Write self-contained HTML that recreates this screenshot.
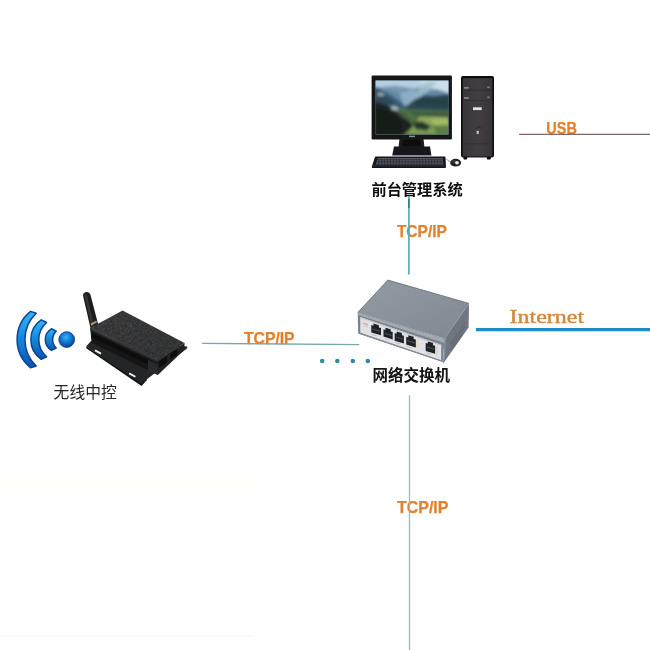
<!DOCTYPE html>
<html lang="zh">
<head>
<meta charset="utf-8">
<title>网络拓扑图</title>
<style>
html,body{margin:0;padding:0;background:#fff;}
body{width:650px;height:650px;overflow:hidden;position:relative;font-family:"Liberation Sans",sans-serif;}
svg{position:absolute;left:0;top:0;display:block;}
.lbl{font-family:"Liberation Sans",sans-serif;font-weight:bold;fill:#e2812c;stroke:#e2812c;stroke-width:0.25px;}
.net{font-family:"Liberation Serif",serif;fill:#d2873c;stroke:#d2873c;stroke-width:0.4px;}
.hid{position:absolute;color:transparent;font-size:15px;line-height:15px;white-space:nowrap;overflow:hidden;font-family:"Liberation Sans",sans-serif;}
</style>
</head>
<body>
<svg width="650" height="650" viewBox="0 0 650 650">
<defs>
  <filter id="b03" x="-5%" y="-5%" width="110%" height="110%"><feGaussianBlur stdDeviation="0.35"/></filter>
  <filter id="bz" x="-5%" y="-5%" width="110%" height="110%"><feGaussianBlur stdDeviation="11"/></filter>
  <filter id="grain" x="0" y="0" width="100%" height="100%"><feTurbulence type="fractalNoise" baseFrequency="0.4" numOctaves="2" seed="7" result="n"/><feColorMatrix in="n" type="matrix" values="0 0 0 0 0.5  0 0 0 0 0.5  0 0 0 0 0.5  0.9 0.9 0.9 0 -0.95" result="m"/><feComposite in="m" in2="SourceGraphic" operator="in"/></filter>
  <clipPath id="scr"><rect x="375.5" y="80.5" width="73" height="54.1"/></clipPath>
  <linearGradient id="wifi" x1="0" y1="0" x2="0" y2="1">
    <stop offset="0" stop-color="#33b8f2"/><stop offset="0.45" stop-color="#178ae0"/><stop offset="1" stop-color="#0c55ae"/>
  </linearGradient>
  <radialGradient id="dot" cx="0.45" cy="0.35" r="0.65">
    <stop offset="0" stop-color="#37b4f4"/><stop offset="0.55" stop-color="#1273d0"/><stop offset="1" stop-color="#0a3f8e"/>
  </radialGradient>
  <linearGradient id="swtop" x1="0" y1="0" x2="1" y2="1">
    <stop offset="0" stop-color="#929aa3"/><stop offset="1" stop-color="#808892"/>
  </linearGradient>
  <linearGradient id="tower" x1="0" y1="0" x2="1" y2="0">
    <stop offset="0" stop-color="#39363a"/><stop offset="0.5" stop-color="#413d41"/><stop offset="1" stop-color="#38353a"/>
  </linearGradient>
  <linearGradient id="boxtop" x1="0" y1="0" x2="1" y2="1">
    <stop offset="0" stop-color="#303132"/><stop offset="1" stop-color="#28292a"/>
  </linearGradient>
</defs>
<rect width="650" height="650" fill="#ffffff"/>
<rect x="0" y="477.5" width="254.7" height="12.8" fill="#fffef8"/>
<rect x="0" y="635.3" width="254.4" height="1.6" fill="#f8f8f8"/>

<!-- orange labels -->
<g filter="url(#b03)">
  <text class="lbl" x="546.3" y="134" font-size="17.4" textLength="30.6" lengthAdjust="spacingAndGlyphs">USB</text>
  <text class="lbl" x="396.9" y="236.8" font-size="16.5" textLength="50" lengthAdjust="spacingAndGlyphs">TCP/IP</text>
  <text class="lbl" x="244" y="344.4" font-size="16.5" textLength="50.6" lengthAdjust="spacingAndGlyphs">TCP/IP</text>
  <text class="lbl" x="396.9" y="512.5" font-size="16.5" textLength="51.6" lengthAdjust="spacingAndGlyphs">TCP/IP</text>
  <text class="net" x="509.6" y="322.6" font-size="19.2" textLength="74.5" lengthAdjust="spacingAndGlyphs">Internet</text>
</g>
<!-- connection lines -->
<g fill="none">
  <line x1="519.2" y1="134.3" x2="650" y2="134.3" stroke="#7d6a68" stroke-width="1.3"/>
  <line x1="408.9" y1="196.5" x2="408.9" y2="274.5" stroke="#4fb0c0" stroke-width="1.7"/>
  <line x1="408.9" y1="199" x2="408.9" y2="208" stroke="#2a7888" stroke-width="1.4"/>
  <line x1="409.5" y1="395.3" x2="409.5" y2="650" stroke="#8cbccb" stroke-width="1.3"/>
  <line x1="202.2" y1="343.4" x2="359.2" y2="344.6" stroke="#7aa6ad" stroke-width="1.4"/>
  <line x1="476" y1="329.7" x2="650" y2="329.7" stroke="#1b8bc9" stroke-width="3.2"/>
</g>
<g fill="#2f8da0" filter="url(#b03)">
  <circle cx="322.2" cy="361.1" r="2.25"/><circle cx="337.3" cy="361.1" r="2.25"/><circle cx="352.8" cy="361.1" r="2.25"/><circle cx="367.8" cy="361.1" r="2.25"/>
</g>

<!-- desktop computer -->
<g filter="url(#b03)">
  <!-- monitor -->
  <rect x="371.6" y="75.5" width="80.3" height="63.9" rx="1.2" fill="#121215"/>
  <rect x="375.5" y="80.5" width="73" height="54.1" fill="#7798b2"/>
  <g clip-path="url(#scr)">
    <g transform="translate(370 74) scale(0.12923)" filter="url(#bz)">
      <rect x="30" y="40" width="590" height="440" fill="#7798b2"/>
      <!-- bright sky strip -->
      <polygon points="30,40 620,40 620,120 480,95 330,110 200,90 30,105" fill="#b6d0e2"/>
      <polygon points="380,40 620,40 620,150 520,120 420,100" fill="#cadeea"/>
      <!-- light rays -->
      <polygon points="430,60 520,60 330,260 270,250" fill="#a3bfce" opacity="0.8"/>
      <!-- hazy distant ridge -->
      <polygon points="120,110 240,150 330,230 420,150 520,120 620,150 620,260 120,260" fill="#6488a4"/>
      <polygon points="230,150 330,120 400,160 330,250 260,240" fill="#8fb0c6" opacity="0.9"/>
      <!-- left mid mountain -->
      <polygon points="30,95 90,120 170,170 240,220 300,270 30,280" fill="#3b5c72"/>
      <polygon points="30,120 110,160 200,230 30,250" fill="#2e4a5a"/>
      <!-- right mountain -->
      <polygon points="280,250 340,200 420,165 500,170 560,160 620,158 620,300 280,290" fill="#2c4a54"/>
      <polygon points="330,225 420,180 520,185 620,180 620,250 360,250" fill="#25404a"/>
      <!-- valley greens -->
      <polygon points="200,270 620,285 620,480 30,480 30,300" fill="#4f6f43"/>
      <polygon points="300,290 620,300 620,330 340,320" fill="#3c5a40"/>
      <polygon points="380,330 600,335 620,400 470,405 360,380" fill="#8da85a"/>
      <polygon points="250,400 350,385 500,420 520,465 260,465" fill="#7f9d55"/>
      <polygon points="470,350 600,345 615,385 500,390" fill="#a4bc68"/>
      <polygon points="330,375 400,365 470,400 440,440 350,425" fill="#27392a"/>
      <polygon points="520,410 620,400 620,480 500,480" fill="#5c7d47"/>
      <!-- dark foreground slope -->
      <polygon points="30,210 110,235 200,272 270,330 335,400 300,440 250,480 30,480" fill="#1a2120"/>
      <polygon points="30,260 160,300 250,380 230,480 30,480" fill="#141a19"/>
      <polygon points="190,275 260,300 330,370 290,360 230,320" fill="#44603f"/>
      <!-- snow patches -->
      <polygon points="58,146 104,148 108,170 60,168" fill="#cfdde4" opacity="0.7"/>
      <polygon points="158,250 209,253 220,282 170,277" fill="#dde8e6" opacity="0.75"/>
    </g>
  </g>
  <rect x="409" y="135.6" width="6" height="1.6" fill="#8a8c90"/>
  <!-- stand -->
  <polygon points="399.5,139 423.5,139 424.5,147.5 398.5,147.5" fill="#1b1b1e"/>
  <polygon points="394,146.5 430,146.5 431.4,155.4 392.2,155.4" fill="#19191c"/>
  <polygon points="403,139.5 420,139.5 421,146 402,146" fill="#0c0c0e"/>
  <!-- keyboard -->
  <path d="M376,156.6 L444.6,156.6 Q445.4,156.6 445.5,157.4 L446,166.8 Q446,168 444.8,168 L372.8,168 Q371.5,168 371.8,166.8 L374.8,157.4 Q375,156.6 376,156.6 Z" fill="#17181a"/>
  <polygon points="377.6,158 442.6,158 443.4,164.6 375.6,164.6" fill="#56616d"/>
  <g stroke="#17181a" stroke-width="0.55">
    <line x1="376.8" y1="159.7" x2="443" y2="159.7"/><line x1="376.4" y1="161.3" x2="443.2" y2="161.3"/><line x1="376" y1="162.9" x2="443.3" y2="162.9"/>
  </g>
  <g stroke="#17181a" stroke-width="0.5" opacity="0.8">
    <line x1="379.0" y1="158" x2="378.6" y2="164.6"/>
    <line x1="381.9" y1="158" x2="381.6" y2="164.6"/>
    <line x1="384.8" y1="158" x2="384.5" y2="164.6"/>
    <line x1="387.7" y1="158" x2="387.5" y2="164.6"/>
    <line x1="390.6" y1="158" x2="390.4" y2="164.6"/>
    <line x1="393.5" y1="158" x2="393.4" y2="164.6"/>
    <line x1="396.4" y1="158" x2="396.3" y2="164.6"/>
    <line x1="399.3" y1="158" x2="399.2" y2="164.6"/>
    <line x1="402.2" y1="158" x2="402.2" y2="164.6"/>
    <line x1="405.1" y1="158" x2="405.2" y2="164.6"/>
    <line x1="408.0" y1="158" x2="408.1" y2="164.6"/>
    <line x1="410.9" y1="158" x2="411.1" y2="164.6"/>
    <line x1="413.8" y1="158" x2="414.0" y2="164.6"/>
    <line x1="416.7" y1="158" x2="417.0" y2="164.6"/>
    <line x1="419.6" y1="158" x2="419.9" y2="164.6"/>
    <line x1="422.5" y1="158" x2="422.9" y2="164.6"/>
    <line x1="425.4" y1="158" x2="425.8" y2="164.6"/>
    <line x1="428.3" y1="158" x2="428.8" y2="164.6"/>
    <line x1="431.2" y1="158" x2="431.7" y2="164.6"/>
    <line x1="434.1" y1="158" x2="434.7" y2="164.6"/>
    <line x1="437.0" y1="158" x2="437.6" y2="164.6"/>
    <line x1="439.9" y1="158" x2="440.6" y2="164.6"/>
  </g>
  <rect x="372.6" y="165.2" width="72.8" height="1.2" fill="#2b2d30"/>
  <!-- mouse -->
  <path d="M450.2,161.6 q-2.6,-0.6 -4,-3" stroke="#5b5e63" stroke-width="0.6" fill="none"/>
  <ellipse cx="455.6" cy="162.7" rx="5.5" ry="3.9" fill="#1f2023"/>
  <ellipse cx="454" cy="161.8" rx="2.6" ry="1.8" fill="#35373b"/>
  <ellipse cx="457" cy="162.8" rx="1.9" ry="1.7" fill="#ececee"/>
  <!-- tower -->
  <rect x="463.4" y="156.6" width="3.8" height="2.8" rx="0.8" fill="#0c0c0d"/>
  <rect x="486.8" y="156.6" width="4" height="2.8" rx="0.8" fill="#0c0c0d"/>
  <rect x="461" y="76.1" width="33" height="81.3" rx="1.8" fill="#0e0e10"/>
  <rect x="462.7" y="78.2" width="29.6" height="78.2" rx="0.6" fill="url(#tower)"/>
  <rect x="463" y="89.9" width="29" height="0.6" fill="#2a282b"/>
  <rect x="463" y="100" width="29" height="0.6" fill="#2a282b"/>
  <rect x="463" y="143.6" width="29" height="0.6" fill="#2e2c2f"/>
  <rect x="464" y="87" width="4.8" height="1.7" fill="#8a888c"/>
  <rect x="487.2" y="86.5" width="2.6" height="1.6" fill="#7f7d81"/>
  <rect x="464" y="97.1" width="4.8" height="1.7" fill="#8a888c"/>
  <rect x="487.2" y="96.5" width="2.6" height="1.6" fill="#7f7d81"/>
  <rect x="473" y="107.3" width="8.7" height="2.8" fill="#e2e2e4"/>
  <rect x="476.7" y="130.7" width="2" height="3.2" rx="0.5" fill="#c9c9cc"/>
  <path d="M476.2,128.6 q2.6,-3 5.2,-0.4" stroke="#242326" stroke-width="0.8" fill="none"/>
</g>

<!-- network switch -->
<g filter="url(#b03)">
  <polygon points="444.6,338.5 469,303.4 468.6,327.6 443.2,363.4" fill="#6f7680"/>
  <g stroke="#565d66" stroke-width="0.7"><line x1="451" y1="343.5" x2="465" y2="322.5"/><line x1="451" y1="347" x2="465" y2="326"/><line x1="451" y1="350.5" x2="463" y2="332.5"/></g>
  <polygon points="444.6,338.5 446.2,336.2 445,361 443.2,363.4" fill="#858c95"/>
  <polygon points="387.9,280.1 469,303.4 444.6,338.5 357.7,312.6" fill="url(#swtop)"/>
  <polyline points="357.7,312.6 387.9,280.1 469,303.4" fill="none" stroke="#626871" stroke-width="0.8"/>
  <polygon points="357.7,312.6 444.6,338.5 442.8,361.9 358.2,333.5" fill="#7b828b" />
  <polygon points="358.0,313.0 444.3,338.7 443.9,342.7 358.2,315.1" fill="#a3aab2" />
  <polygon points="360.2,316.9 441.3,344.7 441.1,360.4 360.3,332.7" fill="#dfe1e4" />
  <polygon points="360.2,316.9 441.3,344.7 441.3,345.9 360.2,317.9" fill="#c3c7cc" />
  <polygon points="363.2,322.4 367.8,324.0 367.8,325.4 363.2,323.8" fill="#e39a90" />
  <polygon points="363.2,325.2 367.8,326.8 367.8,327.5 363.2,325.9" fill="#c4c8cd" />
  <polygon points="371.3,325.1 373.4,325.8 373.4,323.6 378.9,325.2 378.9,327.4 381.0,328.0 381.0,335.3 371.3,332.4" fill="#1e2126" />
  <polygon points="372.5,328.5 379.8,330.6 379.8,331.8 372.5,329.7" fill="#4a5058" />
  <polygon points="372.3,334.1 376.6,335.4 376.6,336.2 372.3,334.9" fill="#b4b9bf" />
  <polygon points="383.5,329.3 385.5,329.9 385.5,327.7 390.7,329.3 390.7,331.5 392.7,332.1 392.7,339.4 383.5,336.6" fill="#1e2126" />
  <polygon points="384.7,332.7 391.5,334.7 391.5,335.9 384.7,333.9" fill="#4a5058" />
  <polygon points="384.5,338.3 388.6,339.5 388.6,340.3 384.5,339.1" fill="#b4b9bf" />
  <polygon points="394.7,333.1 396.7,333.7 396.7,331.5 401.9,333.0 401.9,335.2 403.9,335.8 403.9,343.4 394.7,340.7" fill="#1e2126" />
  <polygon points="395.9,336.4 402.7,338.4 402.7,339.6 395.9,337.6" fill="#4a5058" />
  <polygon points="395.7,342.3 399.8,343.5 399.8,344.3 395.7,343.1" fill="#b4b9bf" />
  <polygon points="406.2,336.8 408.3,337.4 408.3,335.2 413.7,336.8 413.7,339.0 415.8,339.6 415.8,347.4 406.2,344.6" fill="#1e2126" />
  <polygon points="407.4,340.1 414.6,342.2 414.6,343.4 407.4,341.3" fill="#4a5058" />
  <polygon points="407.2,346.3 411.5,347.5 411.5,348.3 407.2,347.1" fill="#b4b9bf" />
  <polygon points="425.7,343.0 427.8,343.6 427.8,341.4 433.0,343.0 433.0,345.2 435.1,345.8 435.1,353.7 425.7,350.9" fill="#1e2126" />
  <polygon points="426.9,346.4 433.9,348.5 433.9,349.7 426.9,347.6" fill="#4a5058" />
  <polygon points="426.7,352.6 430.9,353.9 430.9,354.7 426.7,353.4" fill="#b4b9bf" />
  <polygon points="416.7,339.6 418.1,340.0 418.1,348.0 416.7,347.6" fill="#e6d6c4" />
  <polygon points="436.3,345.9 437.7,346.3 437.7,354.8 436.3,354.4" fill="#e3c8bc" />
  <polygon points="358.2,332.3 442.9,360.8 442.8,361.9 358.2,333.5" fill="#868d96" />
</g>

<!-- wireless controller -->
<g filter="url(#b03)">
  <!-- antenna -->
  <path d="M83,295.4 q0.4,-3.2 3.6,-3.4 q3,-0.2 3.8,2.6 l7.8,30 l-7.4,5 z" fill="#1b1c1d"/>
  <path d="M84.6,295.6 q0.6,-1.6 2.2,-1.6 l7.4,32.4 l-2.4,1.6 z" fill="#343537"/>
  <polygon points="90.6,323.6 96.4,320.6 96.9,322.6 91.1,325.8" fill="#a8946a"/>
  <!-- flange -->
  <polygon points="86.3,346.3 91,341 187.2,346.4 187.2,348.2 146.6,379.6 141.6,385.6" fill="#242526"/>
  <polygon points="86.3,346.3 141.6,384.2 141.6,386 86.3,348.2" fill="#0f0f10"/>
  <polygon points="141.6,384.2 146.6,378.4 146.6,380.2 141.6,386" fill="#141415"/>
  <!-- body -->
  <polygon points="90.2,328 157.8,360.4 157.8,375 91.5,342.6" fill="#171819"/>
  <polygon points="157.8,360.4 184.5,343 184.5,349.8 157.8,375" fill="#222324"/>
  <polygon points="90.2,328 122.6,310.6 184.5,343 157.8,360.4" fill="url(#boxtop)"/>
  <polygon points="90.2,328 122.6,310.6 184.5,343 157.8,360.4" fill="#808080" filter="url(#grain)" opacity="0.17"/>
  <polygon points="90.2,328 157.8,360.4 157.8,362.6 90.4,330.4" fill="#2c2d2e"/>
  <polygon points="92,333.2 148,360 148,364.6 92.2,337.6" fill="#080809"/>
  <polygon points="148,360 157.8,364.6 157.8,375 148,370.4" fill="#2b2c2d"/>
  <polyline points="90.2,328 157.8,360.4 184.5,343" fill="none" stroke="#4a4b4c" stroke-width="0.5"/>
  <!-- ports on right face -->
  <polygon points="158.8,361.4 167.1,356 167.1,362.4 158.8,367.8" fill="#0b0b0c"/>
  <polygon points="170,353.6 177.2,349 177.2,355 170,359.4" fill="#0b0b0c"/>
  <!-- slots -->
  <polygon points="95.4,349.6 101.4,352.8 100.6,354.4 94.6,351.2" fill="#f4f4f4"/>
  <polygon points="129.6,372.6 135.8,376 135,377.6 128.8,374.2" fill="#f4f4f4"/>
</g>
<!-- wifi icon -->
<g filter="url(#b03)">
  <g fill="url(#wifi)" stroke="#0c4494" stroke-width="1.5" stroke-linejoin="round">
    <path d="M30.6,311.4 A36.2 36.2 0 0 0 30.6,367.8 L36.2,366 A36.5 36.5 0 0 1 36.2,313.2 Z"/>
    <path d="M41.2,319.9 A23.9 23.9 0 0 0 41.2,359.3 L46.6,356.7 A22.6 22.6 0 0 1 46.6,322.5 Z"/>
    <path d="M51.4,328.8 A12.6 12.6 0 0 0 51.4,350.4 L56.2,348.1 A11.9 11.9 0 0 1 56.2,331.1 Z"/>
  </g>
  <circle cx="66.7" cy="339.6" r="7.8" fill="url(#dot)" stroke="#0b3c88" stroke-width="1"/>
</g>
<!-- labels -->
<g filter="url(#b03)">
<text x="371.45" y="195.3" font-size="15.2" font-weight="bold" fill="#101010" textLength="91.3" lengthAdjust="spacingAndGlyphs" style="font-family:'Liberation Sans','Noto Sans CJK SC',sans-serif;">前台管理系统</text>
<text x="372.5" y="381" font-size="15.5" font-weight="bold" fill="#121212" textLength="77.5" lengthAdjust="spacingAndGlyphs" style="font-family:'Liberation Sans','Noto Sans CJK SC',sans-serif;">网络交换机</text>
<text x="53.6" y="397.7" font-size="15.8" fill="#262628" textLength="63.2" lengthAdjust="spacingAndGlyphs" style="font-family:'Liberation Sans','Noto Sans CJK SC',sans-serif;">无线中控</text>
</g>
</svg>
<div class="hid" style="left:371px;top:182px;width:92px;height:15px;">前台管理系统</div>
<div class="hid" style="left:372px;top:368px;width:78px;height:15px;">网络交换机</div>
<div class="hid" style="left:54px;top:384px;width:63px;height:15px;">无线中控</div>
</body>
</html>
